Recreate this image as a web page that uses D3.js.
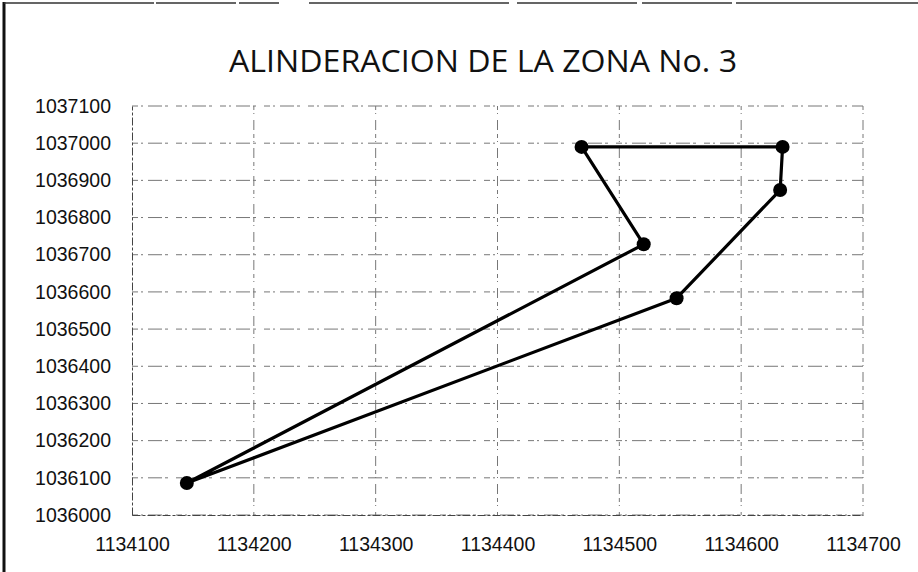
<!DOCTYPE html>
<html>
<head>
<meta charset="utf-8">
<script src="https://cdn.jsdelivr.net/npm/d3@7/dist/d3.min.js"></script>
<style>
  html, body { margin: 0; padding: 0; background: #fff; }
  svg { display: block; }
</style>
</head>
<body>
<div id="chart"></div>
<script>
// Boundary vertices of zone No. 3 (easting, northing), in drawing order, closed
const eastings  = [1134469, 1134634, 1134632, 1134547, 1134145, 1134520, 1134469];
const northings = [1036990, 1036990, 1036874, 1036583, 1036086, 1036728, 1036990];

const xTicks = [1134100, 1134200, 1134300, 1134400, 1134500, 1134600, 1134700];
const yTicks = [1036000, 1036100, 1036200, 1036300, 1036400, 1036500,
                1036600, 1036700, 1036800, 1036900, 1037000, 1037100];

const title = "ALINDERACION DE LA ZONA No. 3";

const W = 918, H = 572;
const margin = { left: 132, right: 55, top: 106, bottom: 57 };

const svg = d3.select("#chart").append("svg")
  .attr("width", W).attr("height", H);

// outer chart frame
svg.append("line").attr("x1", 4).attr("x2", 4).attr("y1", 2).attr("y2", H)
  .attr("stroke", "#111").attr("stroke-width", 3);
svg.append("line").attr("x1", 4).attr("x2", W).attr("y1", 3).attr("y2", 3)
  .attr("stroke", "#333").attr("stroke-width", 1.5)
  .attr("stroke-dasharray", "150,2,80,3,40,30,200,8,120,5,90,4,300");

const x = d3.scaleLinear().domain([1134100, 1134700]).range([margin.left, W - margin.right]);
const y = d3.scaleLinear().domain([1036000, 1037100]).range([H - margin.bottom, margin.top]);

const grid = svg.append("g");
grid.selectAll("line.h").data(yTicks).join("line")
  .attr("class", "h")
  .attr("x1", x(1134100)).attr("x2", x(1134700))
  .attr("y1", d => y(d)).attr("y2", d => y(d))
  .attr("stroke", "#777").attr("stroke-width", 1)
  .attr("stroke-dasharray", "6,3,2,5,14,3,3,8");
grid.selectAll("line.v").data(xTicks.slice(1)).join("line")
  .attr("class", "v")
  .attr("x1", d => x(d)).attr("x2", d => x(d))
  .attr("y1", y(1037100)).attr("y2", y(1036000))
  .attr("stroke", "#777").attr("stroke-width", 1)
  .attr("stroke-dasharray", "4,3,1,6,10,4");

// axes
const xAxis = d3.axisBottom(x).tickValues(xTicks).tickSize(0).tickPadding(22)
  .tickFormat(d3.format("d"));
const yAxis = d3.axisLeft(y).tickValues(yTicks).tickSize(0).tickPadding(21)
  .tickFormat(d3.format("d"));

const gx = svg.append("g").attr("transform", `translate(0,${y(1036000)})`).call(xAxis);
const gy = svg.append("g").attr("transform", `translate(${x(1134100)},0)`).call(yAxis);
[gx, gy].forEach(g => {
  g.select(".domain").attr("stroke", "#444").attr("stroke-width", 1)
    .attr("stroke-dasharray", "8,2,3,2");
  g.selectAll("text").attr("font-family", "Liberation Sans, Arial, sans-serif")
    .attr("font-size", 19.5).attr("fill", "#111");
});

// boundary line and vertices
const pts = eastings.map((e, i) => [e, northings[i]]);
svg.append("path").datum(pts)
  .attr("d", d3.line().x(d => x(d[0])).y(d => y(d[1])))
  .attr("fill", "none").attr("stroke", "#000").attr("stroke-width", 3.2)
  .attr("stroke-linejoin", "round");
svg.selectAll("circle.pt").data(pts.slice(0, -1)).join("circle")
  .attr("class", "pt")
  .attr("cx", d => x(d[0])).attr("cy", d => y(d[1])).attr("r", 7)
  .attr("fill", "#000");

// title
svg.append("text").attr("x", 483).attr("y", 72)
  .attr("text-anchor", "middle")
  .attr("font-family", "Open Sans, Liberation Sans, sans-serif")
  .attr("font-size", 31).attr("fill", "#111")
  .attr("textLength", 508).attr("lengthAdjust", "spacingAndGlyphs")
  .text(title);
</script>
</body>
</html>
